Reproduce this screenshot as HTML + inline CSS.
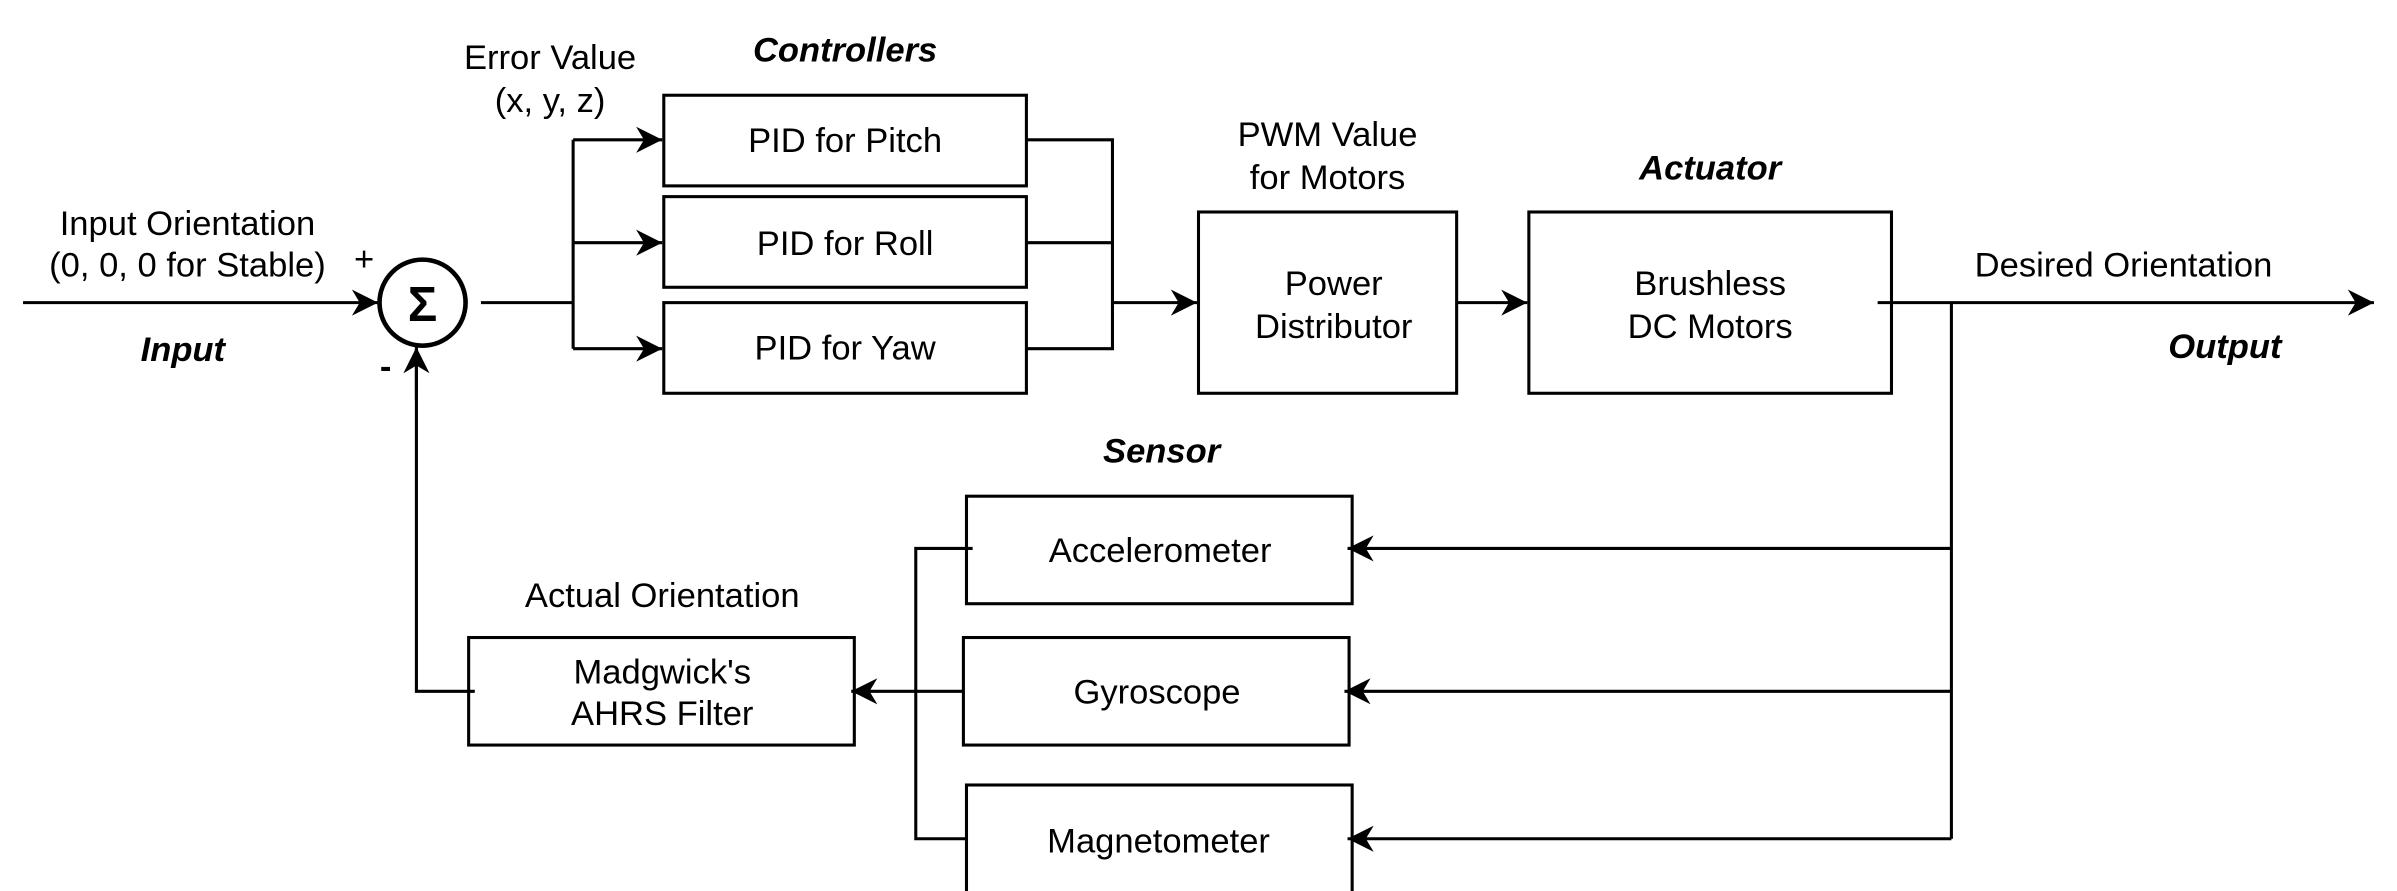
<!DOCTYPE html>
<html><head><meta charset="utf-8"><style>
html,body{margin:0;padding:0;background:#fff;width:2397px;height:891px;overflow:hidden}
svg{display:block}
text{font-family:"Liberation Sans",sans-serif;font-size:22.5px;fill:#000;text-anchor:middle}
.b{font-weight:bold;font-style:italic}
</style></head><body>
<svg width="2397" height="891" viewBox="0 0 1560 580" preserveAspectRatio="none">
<defs>
<marker id="A" viewBox="0 0 10 10" refX="10" refY="5" markerWidth="17" markerHeight="17" markerUnits="userSpaceOnUse" orient="auto"><path d="M0,0 L10,5 L0,10 L3,5 Z" fill="#000"/></marker></defs>
<g fill="none" stroke="#000" stroke-width="2">
<rect x="432" y="62" width="236" height="59"/>
<rect x="432" y="128" width="236" height="59"/>
<rect x="432" y="197" width="236" height="59"/>
<rect x="780" y="138" width="168" height="118"/>
<rect x="995" y="138" width="236" height="118"/>
<rect x="629" y="323" width="251" height="70"/>
<rect x="627" y="415" width="251" height="70"/>
<rect x="629" y="511" width="251" height="70"/>
<rect x="305" y="415" width="251" height="70"/>
<circle cx="275" cy="197" r="28" stroke-width="3"/>
<line x1="15" y1="197" x2="246" y2="197" marker-end="url(#A)"/>
<polyline points="313,197 373,197"/>
<line x1="373" y1="91" x2="373" y2="227"/>
<line x1="373" y1="91" x2="431" y2="91" marker-end="url(#A)"/>
<line x1="373" y1="158" x2="431" y2="158" marker-end="url(#A)"/>
<line x1="373" y1="227" x2="431" y2="227" marker-end="url(#A)"/>
<polyline points="668,91 724,91 724,227 668,227"/>
<line x1="668" y1="158" x2="724" y2="158"/>
<line x1="724" y1="197" x2="779" y2="197" marker-end="url(#A)"/>
<line x1="948" y1="197" x2="994" y2="197" marker-end="url(#A)"/>
<line x1="1222" y1="197" x2="1545" y2="197" marker-end="url(#A)"/>
<line x1="1270" y1="197" x2="1270" y2="546"/>
<line x1="1270" y1="357" x2="877" y2="357" marker-end="url(#A)"/>
<line x1="1270" y1="450" x2="875" y2="450" marker-end="url(#A)"/>
<line x1="1270" y1="546" x2="877" y2="546" marker-end="url(#A)"/>
<polyline points="633,357 596,357 596,546 629,546"/>
<line x1="627" y1="450" x2="554" y2="450" marker-end="url(#A)"/>
<polyline points="309,450 271,450 271,227"/>
<line x1="271" y1="260" x2="271" y2="226" marker-end="url(#A)"/>
</g>
<text x="275" y="209" style="font-size:32px;font-weight:bold">Σ</text>
<text x="237" y="176">+</text>
<text x="251" y="246" style="font-weight:bold">-</text>
<text x="122" y="153">Input Orientation</text>
<text x="122" y="180">(0, 0, 0 for Stable)</text>
<text x="119" y="235" class="b">Input</text>
<text x="358" y="45">Error Value</text>
<text x="358" y="73">(x, y, z)</text>
<text x="550" y="40" class="b">Controllers</text>
<text x="550" y="99">PID for Pitch</text>
<text x="550" y="166">PID for Roll</text>
<text x="550" y="234">PID for Yaw</text>
<text x="864" y="95">PWM Value</text>
<text x="864" y="123">for Motors</text>
<text x="868" y="192">Power</text>
<text x="868" y="220">Distributor</text>
<text x="1113" y="117" class="b">Actuator</text>
<text x="1113" y="192">Brushless</text>
<text x="1113" y="220">DC Motors</text>
<text x="1382" y="180">Desired Orientation</text>
<text x="1448" y="233" class="b">Output</text>
<text x="756" y="301" class="b">Sensor</text>
<text x="755" y="366">Accelerometer</text>
<text x="753" y="458">Gyroscope</text>
<text x="754" y="555">Magnetometer</text>
<text x="431" y="395">Actual Orientation</text>
<text x="431" y="445">Madgwick's</text>
<text x="431" y="472">AHRS Filter</text>
</svg>
</body></html>
